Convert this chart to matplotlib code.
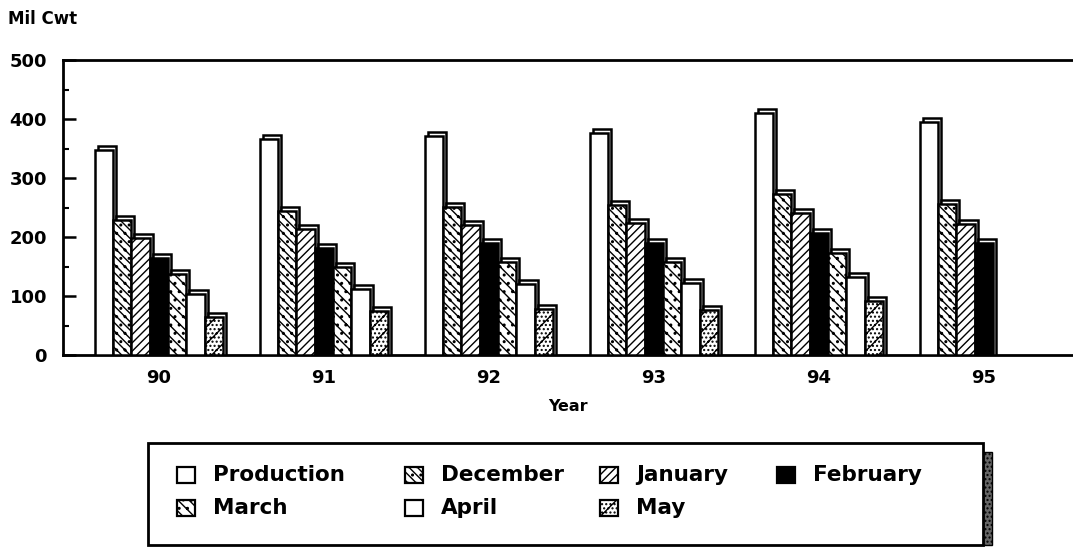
import numpy as np
import matplotlib.pyplot as plt
from matplotlib.patches import Rectangle

plt.rcParams['font.family'] = ['DejaVu Sans']
plt.rcParams['font.weight'] = 'bold'
plt.rcParams['hatch.linewidth'] = 1.0

# -------------------------------------------------------
# Data (million cwt)
# -------------------------------------------------------
years = ['90', '91', '92', '93', '94', '95']
production = [347, 366, 372, 377, 410, 395]
december = [229, 244, 251, 254, 273, 256]
january = [199, 214, 220, 223, 241, 222]
february = [165, 182, 189, 190, 206, 190]
march = [137, 150, 158, 158, 173, np.nan]
april = [104, 112, 121, 122, 132, np.nan]
may = [65, 74, 78, 77, 92, np.nan]

series = [production, december, january, february, march, april, may]
names = ['Production', 'December', 'January', 'February', 'March', 'April', 'May']
fills = ['white', 'white', 'white', 'black', 'white', 'white', 'white']
hatches = [None, '\\\\\\\\..', '////', None, '\\\\\\..', None, '//....']

W, H = 1073, 547
fig = plt.figure(figsize=(W / 100, H / 100), dpi=100)
ax = fig.add_axes([63 / W, 1 - 355 / H, 1 - 63 / W, 295 / H])

x = np.arange(len(years))
w = 0.111
dx = 3 / 165          # depth offset (x, data units)
dy = 4 / 0.59         # depth offset (y, data units)

for k, vals in enumerate(series):
    vals = np.array(vals, dtype=float)
    pos = x + (k - 3) * w
    ax.bar(pos + dx, vals + dy, width=w, color='white', edgecolor='black',
           linewidth=1.8, zorder=2 * k + 2)
    ax.bar(pos, vals, width=w, color=fills[k], hatch=hatches[k],
           edgecolor='black', linewidth=1.8, zorder=2 * k + 3)

ax.set_xlim(-0.58, 5.54)
ax.set_ylim(0, 500)
ax.set_xticks(x)
ax.set_xticklabels(years, fontsize=13, fontweight='bold')
ax.tick_params(axis='x', length=0, pad=10)
ax.set_yticks(np.arange(0, 501, 100))
ax.set_yticks(np.arange(50, 500, 100), minor=True)
ax.tick_params(axis='y', which='major', direction='in', length=9, width=1.8,
               labelsize=13, pad=11.5)
ax.tick_params(axis='y', which='minor', direction='in', length=4, width=1.5)
for lab in ax.get_yticklabels():
    lab.set_fontweight('bold')
for s in ['left', 'bottom', 'top']:
    ax.spines[s].set_linewidth(2)
ax.spines['right'].set_visible(False)

ax.set_xlabel('Year', fontsize=11.5, fontweight='bold', labelpad=9)
fig.text(8 / W, 1 - 19 / H, 'Mil Cwt', fontsize=12, fontweight='bold',
         va='center', ha='left')

# -------------------------------------------------------
# Legend box, drawn by hand (4 columns, 2 rows)
# -------------------------------------------------------
fig.patches.append(Rectangle((983 / W, 1 - 545 / H), 9 / W, 93 / H,
                             transform=fig.transFigure, facecolor='#666666',
                             edgecolor='black', hatch='....', linewidth=1))
fig.patches.append(Rectangle((148 / W, 1 - 545 / H), 835 / W, 102 / H,
                             transform=fig.transFigure, facecolor='white',
                             edgecolor='black', linewidth=2))
col_x = [177, 405, 600, 777]
row_y = [475, 508]
for k, name in enumerate(names):
    r, c = divmod(k, 4)
    mx, my = col_x[c], row_y[r]
    fig.patches.append(Rectangle((mx / W, 1 - (my + 8) / H), 18 / W, 16 / H,
                                 transform=fig.transFigure, facecolor=fills[k],
                                 hatch=hatches[k], edgecolor='black',
                                 linewidth=1.6))
    fig.text((mx + 36) / W, 1 - my / H, name, fontsize=15.5, fontweight='bold',
             va='center', ha='left')

fig.savefig('out.png', dpi=100)
